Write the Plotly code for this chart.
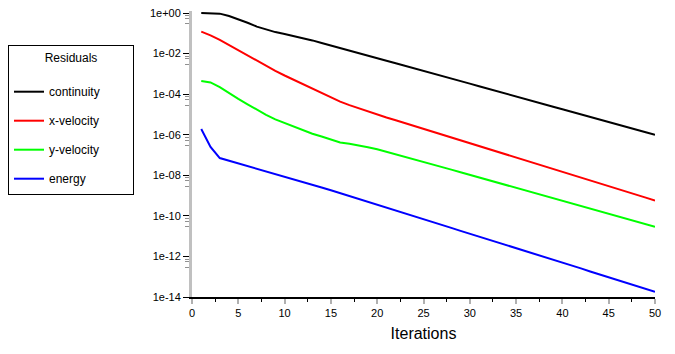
import numpy as np
import plotly.graph_objects as go

# Iteration numbers
iterations = list(range(1, 51))

# Residuals, stored as log10 exponents
continuity_log10 = [0.0, 0.0, -0.03, -0.15, -0.3, -0.48, -0.67, -0.81, -0.94, -1.03,
                    -1.13, -1.23, -1.35, -1.48, -1.6, -1.72, -1.85, -1.97, -2.10, -2.22,
                    -2.35, -2.48, -2.60, -2.73, -2.85, -2.98, -3.11, -3.23, -3.36, -3.48,
                    -3.61, -3.74, -3.86, -3.99, -4.11, -4.24, -4.37, -4.49, -4.62, -4.74,
                    -4.87, -5.0, -5.12, -5.25, -5.37, -5.50, -5.63, -5.75, -5.88, -6.0]
xvel_log10 = [-0.92, -1.1, -1.32, -1.58, -1.83, -2.08, -2.33, -2.6, -2.85, -3.08,
              -3.3, -3.52, -3.73, -3.93, -4.15, -4.37, -4.54, -4.7, -4.86, -5.01,
              -5.15, -5.29, -5.43, -5.57, -5.71, -5.85, -5.99, -6.13, -6.28, -6.42,
              -6.56, -6.70, -6.84, -6.98, -7.12, -7.26, -7.40, -7.54, -7.68, -7.82,
              -7.96, -8.10, -8.24, -8.38, -8.52, -8.66, -8.80, -8.95, -9.10, -9.25]
yvel_log10 = [-3.35, -3.42, -3.65, -3.95, -4.23, -4.5, -4.78, -5.02, -5.24, -5.42,
              -5.6, -5.8, -5.95, -6.09, -6.24, -6.38, -6.44, -6.52, -6.62, -6.72,
              -6.84, -6.97, -7.09, -7.21, -7.34, -7.47, -7.59, -7.72, -7.85, -7.98,
              -8.11, -8.23, -8.36, -8.49, -8.62, -8.75, -8.87, -9.0, -9.13, -9.26,
              -9.39, -9.51, -9.64, -9.77, -9.9, -10.03, -10.15, -10.28, -10.41, -10.54]
energy_log10 = [-5.72, -6.6, -7.15, -7.28, -7.4, -7.53, -7.67, -7.8, -7.93, -8.07,
                -8.2, -8.33, -8.47, -8.6, -8.74, -8.88, -9.02, -9.17, -9.31, -9.45,
                -9.59, -9.74, -9.88, -10.02, -10.17, -10.31, -10.45, -10.59, -10.74, -10.88,
                -11.02, -11.17, -11.31, -11.45, -11.59, -11.74, -11.88, -12.02, -12.17, -12.31,
                -12.45, -12.59, -12.74, -12.88, -13.02, -13.17, -13.31, -13.45, -13.59, -13.74]

series_names = ["continuity", "x-velocity", "y-velocity", "energy"]
series_data = [continuity_log10, xvel_log10, yvel_log10, energy_log10]
series_colors = ["#000000", "#ff0000", "#00ff00", "#0000ff"]

y_tick_exps = [0, -2, -4, -6, -8, -10, -12, -14]
y_tick_labels = ["1e+00", "1e-02", "1e-04", "1e-06", "1e-08", "1e-10", "1e-12", "1e-14"]
x_tick_vals = [0, 5, 10, 15, 20, 25, 30, 35, 40, 45, 50]
legend_title = "Residuals"

FONT = "Liberation Sans, Arial, sans-serif"

fig = go.Figure()
for i, (name, data, color) in enumerate(zip(series_names, series_data, series_colors)):
    fig.add_trace(go.Scatter(
        x=iterations, y=10.0 ** np.array(data), mode="lines", name=name,
        line=dict(color=color, width=2), legendgroup=f"g{i}",
    ))

minor_vals = []
for e in y_tick_exps[:-1]:
    for off in (0.13, 0.26, 0.54):
        minor_vals.append(10.0 ** (e - off))

pad = "\u00a0" * 10
fig.update_layout(
    width=675, height=354,
    margin=dict(l=192, r=20, t=11, b=57, autoexpand=False),
    paper_bgcolor="white", plot_bgcolor="white",
    font=dict(family=FONT, size=11, color="black"),
    showlegend=True,
    legend=dict(
        xref="container", yref="container",
        x=8 / 675, y=1 - 45 / 354, xanchor="left", yanchor="top",
        bordercolor="black", borderwidth=1, bgcolor="white",
        font=dict(family=FONT, size=12, color="black"),
        title=dict(text=pad + legend_title + pad + "<br><span style='font-size:2px'> </span>",
                   side="top center", font=dict(family=FONT, size=12)),
        tracegroupgap=10,
    ),
    xaxis=dict(
        range=[0, 50], tickvals=x_tick_vals, showgrid=False, zeroline=False,
        showline=True, linecolor="black", linewidth=1.5, automargin=False,
        ticks="outside", ticklen=5, tickcolor="#b0b0b0", tickwidth=2,
        minor=dict(dtick=2.5, ticks="outside", ticklen=3, tickcolor="black", tickwidth=1),
        title=dict(text="Iterations", font=dict(family=FONT, size=16), standoff=10),
        tickfont=dict(size=11),
    ),
    yaxis=dict(
        type="log", range=[-14, 0.1], automargin=False,
        tickvals=[10.0 ** e for e in y_tick_exps], ticktext=y_tick_labels,
        showgrid=False, zeroline=False,
        showline=True, linecolor="#c0c0c0", linewidth=3,
        ticks="outside", ticklen=6, tickcolor="black", tickwidth=1,
        minor=dict(tickvals=minor_vals, ticks="outside", ticklen=4, tickcolor="#909090", tickwidth=1),
        tickfont=dict(size=11),
    ),
)

fig.write_html("out.html")
